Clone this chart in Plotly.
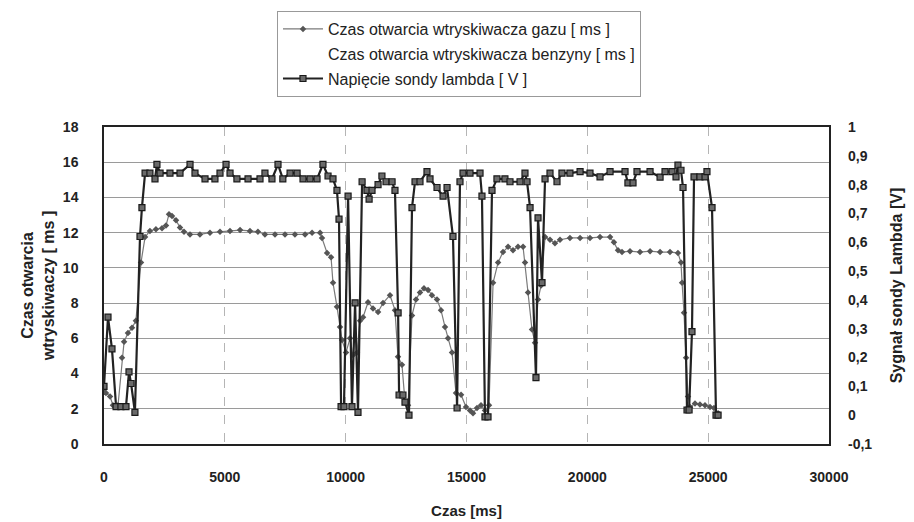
import plotly.graph_objects as go

# ---- data ----
lambda_t = [0, 165, 330, 500, 700, 910, 1035, 1120, 1280, 1490, 1570, 1700, 1900, 2110, 2190, 2320,
            2730, 3145, 3560, 3765, 4180, 4590, 4800, 5050, 5215, 5500, 5960, 6455, 6660, 6950, 7200,
            7400, 7700, 7990, 8235, 8525, 8815, 9060, 9270, 9475, 9640, 9725, 9810, 9930, 10100, 10260,
            10390, 10510, 10680, 10880, 10970, 11090, 11340, 11500, 11670, 11920, 12040, 12170, 12210,
            12370, 12455, 12620, 12745, 12870, 13075, 13365, 13490, 13780, 14030, 14195, 14440, 14610,
            14730, 14855, 15145, 15560, 15640, 15765, 15890, 16055, 16260, 16590, 16800, 17215, 17420,
            17505, 17630, 17875, 17960, 18125, 18250, 18455, 18745, 18950, 19280, 19700, 20110, 20525,
            20940, 21560, 21680, 21890, 22055, 22595, 23010, 23215, 23505, 23670, 23750, 23875, 23960,
            24125, 24210, 24330, 24415, 24660, 24870, 24950, 25160, 25325, 25410]
lambda_v = [0.10, 0.34, 0.23, 0.03, 0.03, 0.03, 0.15, 0.11, 0.01, 0.62, 0.72, 0.84, 0.84, 0.82, 0.87, 0.84,
            0.84, 0.84, 0.87, 0.84, 0.82, 0.82, 0.84, 0.87, 0.84, 0.82, 0.82, 0.82, 0.84, 0.82, 0.87,
            0.82, 0.84, 0.84, 0.82, 0.82, 0.82, 0.87, 0.83, 0.82, 0.78, 0.68, 0.03, 0.03, 0.76, 0.03,
            0.39, 0.01, 0.81, 0.78, 0.75, 0.78, 0.80, 0.83, 0.81, 0.81, 0.78, 0.355, 0.07,
            0.07, 0.045, 0.0, 0.72, 0.81, 0.81, 0.845, 0.82, 0.79, 0.76, 0.79, 0.62, 0.025,
            0.81, 0.84, 0.84, 0.84, 0.76, -0.006, -0.006, 0.78, 0.82, 0.82, 0.81, 0.81, 0.84,
            0.81, 0.72, 0.13, 0.685, 0.46, 0.82, 0.84, 0.81, 0.84, 0.84, 0.845, 0.84, 0.827,
            0.845, 0.845, 0.806, 0.806, 0.845, 0.845, 0.826, 0.845, 0.845, 0.827, 0.868, 0.85, 0.79,
            0.018, 0.018, 0.29, 0.827, 0.827, 0.827, 0.845, 0.72, 0.0, 0.0]

gas_t = [0, 80, 250, 370, 580, 745, 830, 990, 1160, 1320, 1530, 1700, 1900, 2150, 2400, 2565, 2690,
         2815, 2980, 3145, 3310, 3560, 3970, 4385, 4800, 5215, 5630, 6040, 6370, 6660, 7075, 7490,
         7900, 8320, 8610, 8940, 9020, 9230, 9395, 9475, 9640, 9765, 9850, 10015, 10180, 10300, 10470,
         10595, 10720, 10925, 11130, 11340, 11545, 11835, 12040, 12165, 12330, 12455, 12580, 12745,
         12910, 13075, 13240, 13410, 13570, 13780, 13945, 14110, 14235, 14400, 14565, 14775, 14980,
         15145, 15270, 15435, 15600, 15765, 15930, 16100, 16305, 16510, 16720, 16925, 17130, 17340,
         17420, 17545, 17710, 17835, 17960, 18085, 18250, 18455, 18660, 18870, 19280, 19700, 20110,
         20525, 20940, 21100, 21270, 21435, 21765, 22180, 22595, 23010, 23420, 23750, 23875, 23920,
         24000, 24085, 24165, 24250, 24455, 24660, 24870, 25075, 25240, 25410]
gas_v = [3.1, 2.9, 2.7, 2.2, 2.2, 4.9, 5.8, 6.3, 6.6, 7.0, 10.3, 11.75, 12.1, 12.2, 12.25, 12.4, 13.05,
         12.95, 12.7, 12.3, 12.05, 11.9, 11.9, 12.0, 12.05, 12.1, 12.15, 12.1, 12.05, 11.9, 11.9, 11.9,
         11.9, 11.9, 12.0, 12.0, 11.7, 10.85, 10.6, 9.15, 7.8, 6.65, 5.9, 5.2, 6.0, 5.05, 5.2,
         7.0, 7.2, 8.05, 7.7, 7.5, 8.0, 8.45, 7.6, 4.95, 4.5, 2.4, 2.2, 7.3,
         8.2, 8.6, 8.85, 8.75, 8.45, 8.2, 7.6, 6.65, 6.0, 5.2, 2.9, 2.8, 2.1,
         1.9, 1.75, 2.05, 2.2, 1.9, 2.2, 9.15, 10.3, 10.9, 11.2, 11.0, 11.2, 11.2,
         10.3, 8.6, 6.5, 5.75, 8.2, 9.0, 11.75, 11.6, 11.4, 11.6, 11.7, 11.7, 11.7,
         11.75, 11.75, 11.45, 11.0, 10.9, 10.95, 10.9, 10.95, 10.9, 10.9, 10.85, 10.3, 9.15,
         7.45, 4.9, 2.7, 2.1, 2.3, 2.25, 2.2, 2.1, 2.05, 1.75]

x_ticks = [0, 5000, 10000, 15000, 20000, 25000, 30000]
y_ticks = [0, 2, 4, 6, 8, 10, 12, 14, 16, 18]
y2_ticks = [-0.1, 0, 0.1, 0.2, 0.3, 0.4, 0.5, 0.6, 0.7, 0.8, 0.9, 1.0]
y2_labels = ["-0,1", "0", "0,1", "0,2", "0,3", "0,4", "0,5", "0,6", "0,7", "0,8", "0,9", "1"]

names = ["Czas otwarcia wtryskiwacza gazu [ ms ]",
         "Czas otwarcia wtryskiwacza benzyny [ ms ]",
         "Napięcie sondy lambda [ V ]"]

FONT = "Liberation Sans, Arial, sans-serif"
TICKF = dict(size=14, family=FONT, weight="bold", color="#222222")
TITLEF = dict(size=16, family=FONT, weight="bold", color="#222222")

fig = go.Figure()
fig.add_trace(go.Scatter(
    x=gas_t, y=gas_v, name=names[0], mode="lines+markers", legendgroup="a",
    line=dict(color="#7a7a7a", width=1.2),
    marker=dict(symbol="diamond", size=5, color="#555555"),
))
fig.add_trace(go.Scatter(
    x=[None], y=[None], name=names[1], mode="lines", legendgroup="b",
    line=dict(color="rgba(0,0,0,0)", width=1),
))
fig.add_trace(go.Scatter(
    x=lambda_t, y=lambda_v, name=names[2], mode="lines+markers", legendgroup="c", yaxis="y2",
    line=dict(color="#222222", width=2.2),
    marker=dict(symbol="square", size=6, color="#6a6a6a", line=dict(color="#1a1a1a", width=1.2)),
))

# page body has an 8px default margin, so the figure is 8px smaller and shifted
fig.update_layout(
    width=906, height=514,
    paper_bgcolor="white", plot_bgcolor="white",
    margin=dict(l=96, r=85, t=119, b=78, autoexpand=False),
    font=dict(family=FONT, color="#222222"),
    showlegend=True,
    legend=dict(
        x=0.2386, y=1.366, xanchor="left", yanchor="top",
        bordercolor="#999999", borderwidth=1,
        font=dict(size=16, family=FONT, color="#222222"),
        tracegroupgap=1, itemwidth=40,
    ),
    xaxis=dict(
        range=[0, 30000], tickvals=x_ticks, ticktext=[str(v) for v in x_ticks],
        showgrid=True, gridcolor="#b5b5b5", gridwidth=1, griddash="dash",
        showline=True, linecolor="#222222", linewidth=1.5, mirror=True,
        ticks="", ticklabelstandoff=19, automargin=False,
        tickfont=TICKF,
        title=dict(text="Czas [ms]", font=dict(size=15, family=FONT, weight="bold", color="#222222"),
                   standoff=22),
        zeroline=False,
    ),
    yaxis=dict(
        range=[0, 18], tickvals=y_ticks,
        showgrid=True, gridcolor="#9a9a9a", gridwidth=1,
        showline=True, linecolor="#222222", linewidth=1.5, mirror=True,
        ticks="", ticklabelstandoff=21, automargin=False,
        tickfont=TICKF,
        title=dict(text="Czas otwarcia<br>wtryskiwaczy [ ms ]", font=TITLEF, standoff=4),
        zeroline=False,
    ),
    yaxis2=dict(
        range=[-0.1, 1.0], tickvals=y2_ticks, ticktext=y2_labels,
        overlaying="y", side="right", showgrid=False,
        ticks="", ticklabelstandoff=18, automargin=False,
        tickfont=TICKF,
        title=dict(text="Sygnał sondy Lambda [V]", font=TITLEF, standoff=19),
        zeroline=False,
    ),
)

fig.write_html("out.html")
